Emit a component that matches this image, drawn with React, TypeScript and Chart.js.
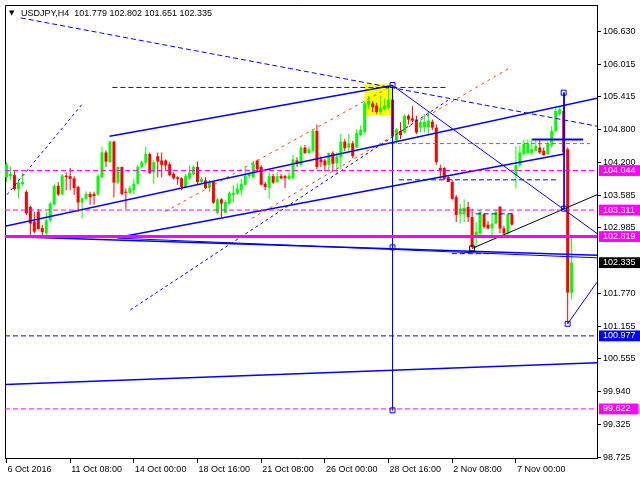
import { useEffect, useRef } from 'react';
import { Chart, registerables } from 'chart.js';

Chart.register(...registerables);

const symbolName = 'USDJPY,H4';

// OHLC per H4 bar (bar index = position)
const opens = [
  103.92, 103.94, 103.96, 103.70, 103.79, 103.65, 103.37, 103.10, 103.28, 102.98,
  102.88, 103.12, 103.41, 103.76, 103.60, 103.95, 103.94, 103.90, 103.74, 103.45,
  103.52, 103.61, 103.61, 103.60, 103.92, 104.38, 104.20, 104.58, 103.82, 104.11,
  103.65, 103.63, 103.68, 103.80, 104.11, 104.19, 104.35, 104.01, 104.31, 104.23,
  104.23, 104.16, 103.98, 103.92, 103.90, 103.74, 103.90, 103.98, 104.11, 103.83,
  103.86, 103.74, 103.83, 103.26, 103.51, 103.26, 103.43, 103.59, 103.62, 103.68,
  103.78, 103.94, 103.92, 104.23, 104.11, 103.80, 103.72, 103.94, 103.83, 103.94,
  103.94, 103.89, 103.90, 104.23, 104.15, 104.47, 104.37, 104.41, 104.78, 104.25,
  104.23, 104.15, 104.37, 104.18, 104.29, 104.58, 104.47, 104.55, 104.47, 104.70,
  104.76, 105.25, 105.29, 105.25, 105.13, 105.18, 105.21, 105.36, 104.60, 104.78,
  104.75, 105.06, 105.01, 104.99, 104.84, 104.84, 104.84, 104.95, 104.84, 104.09,
  104.09, 103.92, 103.83, 103.55, 103.23, 103.23, 103.37, 103.18, 102.83, 102.88,
  103.23, 103.04, 102.97, 103.06, 103.37, 102.97, 102.88, 103.23, 103.95, 104.14,
  104.35, 104.37, 104.37, 104.41, 104.47, 104.41, 104.35, 104.51, 104.78, 105.09,
  105.15, 104.44, 101.779,
];
const highs = [
  104.20, 104.11, 104.03, 103.89, 104.00, 103.68, 103.39, 103.28, 103.33, 103.04,
  103.28, 103.46, 103.79, 103.83, 103.98, 104.01, 104.09, 103.94, 103.76, 103.55,
  103.66, 103.65, 103.65, 103.98, 104.49, 104.42, 104.60, 104.60, 104.12, 104.12,
  103.71, 103.77, 103.89, 104.15, 104.23, 104.49, 104.38, 104.23, 104.38, 104.38,
  104.25, 104.20, 104.01, 103.94, 103.92, 103.98, 104.14, 104.14, 104.21, 103.92,
  103.92, 103.87, 103.85, 103.53, 103.53, 103.50, 103.66, 103.77, 103.81, 103.89,
  104.12, 104.01, 104.23, 104.25, 104.14, 103.83, 104.01, 103.98, 104.01, 103.98,
  103.96, 104.01, 104.33, 104.29, 104.51, 104.52, 104.49, 104.81, 104.90, 104.31,
  104.26, 104.38, 104.40, 104.38, 104.72, 104.63, 104.72, 104.59, 104.81, 104.88,
  105.32, 105.43, 105.33, 105.30, 105.43, 105.38, 105.61, 105.63, 104.84, 104.94,
  105.09, 105.09, 105.24, 105.06, 104.99, 105.09, 105.15, 104.99, 104.90, 104.15,
  104.11, 103.95, 103.87, 103.59, 103.43, 103.51, 103.46, 103.34, 103.09, 103.31,
  103.25, 103.11, 103.25, 103.31, 103.39, 103.02, 103.25, 103.26, 104.49, 104.51,
  104.62, 104.62, 104.64, 104.60, 104.60, 104.47, 104.58, 104.87, 105.21, 105.23,
  105.49, 104.47, 102.802,
];
const lows = [
  103.83, 103.87, 103.68, 103.53, 103.76, 103.22, 102.85, 102.88, 102.95, 102.82,
  102.82, 103.09, 103.41, 103.57, 103.59, 103.68, 103.68, 103.59, 103.28, 103.15,
  103.50, 103.41, 103.41, 103.57, 103.90, 104.11, 104.18, 103.55, 103.79, 103.59,
  103.33, 103.61, 103.61, 103.77, 104.09, 104.14, 103.98, 103.80, 103.92, 103.92,
  104.05, 103.94, 103.88, 103.78, 103.68, 103.72, 103.87, 103.96, 103.79, 103.81,
  103.70, 103.65, 103.43, 103.24, 103.18, 103.26, 103.41, 103.46, 103.59, 103.58,
  103.76, 103.90, 103.90, 104.03, 103.77, 103.68, 103.52, 103.79, 103.81, 103.88,
  103.72, 103.87, 103.88, 104.11, 104.12, 104.35, 104.35, 104.38, 104.07, 104.11,
  104.03, 104.03, 104.03, 103.98, 104.07, 104.40, 104.38, 104.27, 104.46, 104.68,
  104.73, 105.18, 105.13, 105.09, 105.09, 105.16, 105.18, 104.64, 104.54, 104.63,
  104.73, 104.90, 104.94, 104.72, 104.75, 104.75, 104.69, 104.79, 104.15, 103.89,
  103.87, 103.83, 103.50, 103.09, 103.06, 103.09, 103.09, 102.60, 102.61, 102.85,
  102.97, 102.95, 102.85, 103.04, 102.88, 102.85, 102.85, 103.02, 103.71, 104.11,
  104.32, 104.35, 104.33, 104.41, 104.35, 104.32, 104.33, 104.47, 104.75, 105.06,
  104.35, 101.20, 101.651,
];
const closes = [
  104.16, 103.98, 103.70, 103.82, 103.83, 103.25, 103.06, 102.91, 102.96, 102.90,
  103.12, 103.43, 103.76, 103.60, 103.95, 103.92, 103.89, 103.72, 103.45, 103.53,
  103.61, 103.55, 103.57, 103.94, 104.38, 104.21, 104.58, 103.82, 104.11, 103.61,
  103.63, 103.72, 103.80, 104.11, 104.20, 104.35, 104.00, 104.20, 104.21, 104.15,
  104.14, 103.96, 103.90, 103.89, 103.74, 103.94, 104.01, 104.11, 103.83, 103.89,
  103.72, 103.83, 103.45, 103.51, 103.43, 103.46, 103.63, 103.63, 103.71, 103.80,
  103.95, 103.98, 104.17, 104.07, 103.78, 103.74, 103.94, 103.82, 103.94, 103.90,
  103.90, 103.95, 104.25, 104.17, 104.47, 104.37, 104.44, 104.78, 104.11, 104.20,
  104.14, 104.37, 104.17, 104.31, 104.58, 104.46, 104.55, 104.31, 104.74, 104.80,
  105.29, 105.34, 105.22, 105.13, 105.21, 105.25, 105.36, 104.68, 104.81, 104.70,
  105.06, 104.99, 104.97, 104.75, 104.94, 104.95, 104.97, 104.84, 104.20, 104.03,
  103.89, 103.83, 103.52, 103.22, 103.34, 103.35, 103.18, 102.63, 102.91, 103.28,
  103.00, 102.97, 103.06, 103.28, 102.97, 102.88, 103.23, 103.04, 104.14, 104.38,
  104.54, 104.55, 104.44, 104.50, 104.38, 104.33, 104.54, 104.78, 105.15, 105.18,
  104.38, 101.78, 102.335,
];

// time axis labels (bar index -> label)
const xTickBars = [0, 16, 32, 48, 64, 80, 96, 112, 128];
const xTickLabels = [
  '6 Oct 2016', '11 Oct 08:00', '14 Oct 00:00', '18 Oct 16:00', '21 Oct 08:00',
  '26 Oct 00:00', '28 Oct 16:00', '2 Nov 08:00', '7 Nov 00:00',
];

// price axis
const yTicks = [106.63, 106.015, 105.415, 104.8, 104.2, 103.585, 102.985, 101.77, 101.155, 100.555, 99.94, 99.325, 98.725];
const levelPrices = [104.044, 103.311, 102.819, 102.335, 100.977, 99.622];
const levelKinds = ['magenta', 'magenta', 'magenta', 'black', 'blue', 'magenta'];

const X_MIN = -0.375;
const X_MAX = 148.375;
const Y_MIN = 98.7119;
const Y_MAX = 107.1146;

// drawn objects: [barIndex, price] pairs
const topDashDiag = [[3.6, 106.875], [148.375, 104.867]];
const peakFlatDash = [[26.6, 105.585], [110.4, 105.585]];
const upperChannel = [[25.9, 104.682], [97, 105.622]];
const midRay = [[-0.375, 103.01], [148.375, 105.383]];
const lowerRising = [[27.9, 102.803], [140.1, 104.351]];
const flatSupport = [[-0.375, 102.821], [148.375, 102.471]];
const flatSupport2 = [[27.9, 102.79], [148.375, 102.425]];
const bottomRay = [[-0.375, 100.076], [148.375, 100.481]];
const peakVertical = [[97, 105.622], [97, 99.596]];
const peakDiag = [[97, 105.622], [148.375, 102.877]];
const blackSupport = [[117, 102.6], [148.375, 103.595]];
const dropVertical = [[140.1, 105.49], [140.1, 103.337]];
const dropTarget = [[141, 101.2], [148.375, 101.974]];
const orangeUpper = [[39.9, 103.282], [96.6, 105.604]];
const orangeLower = [[61.6, 103.153], [126.6, 105.954]];
const orangeFlat = [[96.6, 104.544], [146.6, 104.544]];
const blueRiseDash = [[31.1, 101.458], [110.9, 105.346]];
const topLeftDash = [[0.125, 103.595], [19.4, 105.309]];
const dashFlatA = [[98.6, 103.872], [138.1, 103.872]];
const dashFlatB = [[117.9, 103.24], [127.1, 103.24]];
const dashFlatC = [[111.9, 102.502], [121.6, 102.502]];
const solidFlat = [[132.1, 104.622], [144.9, 104.622]];
const blueAnchors = [[97, 105.631], [97, 102.619], [97, 99.596], [140, 105.488], [140.1, 103.337], [141, 101.2]];
const blackAnchors = [[117, 102.6]];
const yellowZoneBars = [89.9, 96.9];
const yellowZonePrices = [105.075, 105.646];

const COLORS: Record<string, string> = {
  magenta: '#FF00FF',
  black: '#000000',
  blue: '#0000FF',
};

const FONT = 'Liberation Sans';

function pts(p: number[][]) {
  return p.map(([x, y]) => ({ x, y }));
}

function lineDs(p: number[][], color: string, width: number, dash: number[] = [], order = 0) {
  return {
    type: 'line' as const,
    data: pts(p),
    borderColor: color,
    borderWidth: width,
    borderDash: dash,
    borderCapStyle: 'butt' as const,
    pointRadius: 0,
    fill: false,
    tension: 0,
    order,
  };
}

function levelIndex(v: number) {
  return levelPrices.findIndex((p) => Math.abs(p - v) < 1e-6);
}

export default function App() {
  const ref = useRef<HTMLCanvasElement>(null);

  useEffect(() => {
    const canvas = ref.current;
    if (!canvas) return;
    const idx = opens.map((_, i) => i);
    const candleColors = idx.map((i) => (closes[i] >= opens[i] ? '#00FF00' : '#FF0000'));
    const full = (p: number) => [[X_MIN, p], [X_MAX, p]];

    const datasets: any[] = [
      {
        type: 'line',
        data: pts([[yellowZoneBars[0], yellowZonePrices[1]], [yellowZoneBars[1], yellowZonePrices[1]]]),
        borderWidth: 0,
        borderColor: 'rgba(0,0,0,0)',
        backgroundColor: '#FFFF00',
        pointRadius: 0,
        fill: { value: yellowZonePrices[0] },
        order: 20,
      },
      {
        type: 'bar',
        data: idx.map((i) => ({ x: i, y: [lows[i], highs[i]] })),
        backgroundColor: candleColors,
        barThickness: 1,
        grouped: false,
        borderWidth: 0,
        inflateAmount: 0,
        minBarLength: 1,
        order: 11,
      },
      {
        type: 'bar',
        data: idx.map((i) => ({ x: i, y: [opens[i], closes[i]] })),
        backgroundColor: candleColors,
        barThickness: 3,
        grouped: false,
        borderWidth: 0,
        inflateAmount: 0,
        minBarLength: 1,
        order: 10,
      },
      lineDs(full(levelPrices[0]), COLORS.magenta, 1, [5, 3]),
      lineDs(full(levelPrices[1]), COLORS.magenta, 1, [5, 3]),
      lineDs(full(levelPrices[5]), COLORS.magenta, 1, [5, 3]),
      lineDs(full(levelPrices[4]), COLORS.blue, 1, [5, 3]),
      lineDs(full(levelPrices[2]), COLORS.magenta, 3),
      lineDs(topDashDiag, COLORS.blue, 1, [5, 3]),
      lineDs(peakFlatDash, COLORS.blue, 1, [5, 3]),
      lineDs(upperChannel, COLORS.blue, 1.5),
      lineDs(midRay, COLORS.blue, 1.5),
      lineDs(lowerRising, COLORS.blue, 1.5),
      lineDs(flatSupport, COLORS.blue, 1.5),
      lineDs(flatSupport2, COLORS.blue, 1),
      lineDs(bottomRay, COLORS.blue, 1.5),
      lineDs(peakVertical, COLORS.blue, 1),
      lineDs(peakDiag, COLORS.blue, 1),
      lineDs(blackSupport, '#000000', 1),
      lineDs(dropVertical, COLORS.blue, 1),
      lineDs(dropTarget, COLORS.blue, 1),
      lineDs(orangeUpper, '#FF4500', 1, [3, 4]),
      lineDs(orangeLower, '#FF4500', 1, [3, 4]),
      lineDs(orangeFlat, '#FF4500', 1, [4, 3]),
      lineDs(blueRiseDash, COLORS.blue, 1, [3, 3]),
      lineDs(topLeftDash, COLORS.blue, 1, [3, 3]),
      lineDs(dashFlatA, COLORS.blue, 1, [5, 3]),
      lineDs(dashFlatB, COLORS.blue, 1, [5, 3]),
      lineDs(dashFlatC, COLORS.blue, 1, [5, 3]),
      lineDs(solidFlat, COLORS.blue, 2),
      {
        type: 'scatter',
        data: pts(blueAnchors),
        pointStyle: 'rect',
        pointRadius: 3.5,
        borderWidth: 1,
        borderColor: COLORS.blue,
        backgroundColor: 'rgba(255,255,255,0)',
        order: -1,
      },
      {
        type: 'scatter',
        data: pts(blackAnchors),
        pointStyle: 'rect',
        pointRadius: 3.5,
        borderWidth: 1,
        borderColor: '#000000',
        backgroundColor: 'rgba(255,255,255,0)',
        order: -1,
      },
    ];

    const framePlugin = {
      id: 'frame',
      beforeDatasetsDraw(chart: any) {
        const { ctx, chartArea } = chart;
        ctx.save();
        ctx.strokeStyle = '#000';
        ctx.lineWidth = 1;
        ctx.beginPath();
        ctx.moveTo(chartArea.left + 0.5, chartArea.bottom);
        ctx.lineTo(chartArea.left + 0.5, chartArea.top + 0.5);
        ctx.lineTo(chartArea.right, chartArea.top + 0.5);
        ctx.stroke();
        ctx.restore();
      },
    };

    const headerPlugin = {
      id: 'header',
      afterDraw(chart: any) {
        const { ctx, chartArea } = chart;
        const n = closes.length - 1;
        const txt = `${symbolName}  ${opens[n].toFixed(3)} ${highs[n].toFixed(3)} ${lows[n].toFixed(3)} ${closes[n].toFixed(3)}`;
        ctx.save();
        ctx.fillStyle = '#000';
        ctx.textBaseline = 'middle';
        ctx.font = `7px "DejaVu Sans"`;
        ctx.fillText('▼', chartArea.left + 4, chartArea.top + 8.5);
        ctx.font = `9px "${FONT}"`;
        ctx.fillText(txt, chartArea.left + 16, chartArea.top + 8.5);
        ctx.restore();
      },
    };

    const chart = new Chart(canvas, {
      type: 'bar',
      data: { datasets },
      options: {
        animation: false,
        responsive: false,
        maintainAspectRatio: false,
        devicePixelRatio: 1,
        events: [],
        layout: { padding: { left: 2, top: 2, right: 0, bottom: 0 } },
        plugins: {
          legend: { display: false },
          tooltip: { enabled: false },
          title: { display: false },
        },
        scales: {
          x: {
            type: 'linear',
            min: X_MIN,
            max: X_MAX,
            offset: false,
            position: 'bottom',
            grid: {
              display: true,
              drawOnChartArea: false,
              drawTicks: true,
              tickLength: 5,
              color: '#000',
              offset: false,
            },
            border: { display: true, color: '#000', width: 1 },
            ticks: {
              autoSkip: false,
              maxRotation: 0,
              minRotation: 0,
              align: 'start',
              padding: 1,
              labelOffset: 1,
              color: '#000',
              font: { family: FONT, size: 9 },
              callback: (v: any) => {
                const k = xTickBars.indexOf(Number(v));
                return k >= 0 ? xTickLabels[k] : '';
              },
            },
            afterBuildTicks: (s: any) => {
              s.ticks = xTickBars.map((v) => ({ value: v }));
            },
            afterFit: (s: any) => {
              s.height = 22;
              s.paddingLeft = 0;
              s.paddingRight = 0;
              s.paddingTop = 0;
              s.paddingBottom = 0;
            },
          },
          y: {
            type: 'linear',
            position: 'right',
            min: Y_MIN,
            max: Y_MAX,
            grid: {
              display: true,
              drawOnChartArea: false,
              drawTicks: true,
              tickLength: 4,
              color: '#000',
              tickColor: (ctx: any) => (ctx.tick && levelIndex(ctx.tick.value) >= 0 ? 'rgba(0,0,0,0)' : '#000'),
            },
            border: { display: true, color: '#000', width: 1 },
            ticks: {
              autoSkip: false,
              padding: 2,
              font: { family: FONT, size: 9 },
              color: (ctx: any) => (ctx.tick && levelIndex(ctx.tick.value) >= 0 ? '#FFFFFF' : '#000000'),
              showLabelBackdrop: (ctx: any) => !!ctx.tick && levelIndex(ctx.tick.value) >= 0,
              backdropColor: (ctx: any) => {
                const k = ctx.tick ? levelIndex(ctx.tick.value) : -1;
                return k >= 0 ? COLORS[levelKinds[k]] : 'rgba(0,0,0,0)';
              },
              backdropPadding: { left: 4, right: 8, top: 0, bottom: 0 },
              callback: (v: any) => Number(v).toFixed(3),
            },
            afterBuildTicks: (s: any) => {
              s.ticks = [...yTicks, ...levelPrices].map((v) => ({ value: v }));
            },
            afterFit: (s: any) => {
              s.width = 43;
              s.paddingLeft = 0;
              s.paddingRight = 0;
              s.paddingTop = 0;
              s.paddingBottom = 0;
            },
          },
        },
      } as any,
      plugins: [framePlugin, headerPlugin],
    } as any);

    return () => chart.destroy();
  }, []);

  return (
    <div style={{ position: 'fixed', left: 0, top: 0, width: 640, height: 480, background: '#fff' }}>
      <canvas ref={ref} width={640} height={480} style={{ display: 'block', width: 640, height: 480 }} />
    </div>
  );
}
